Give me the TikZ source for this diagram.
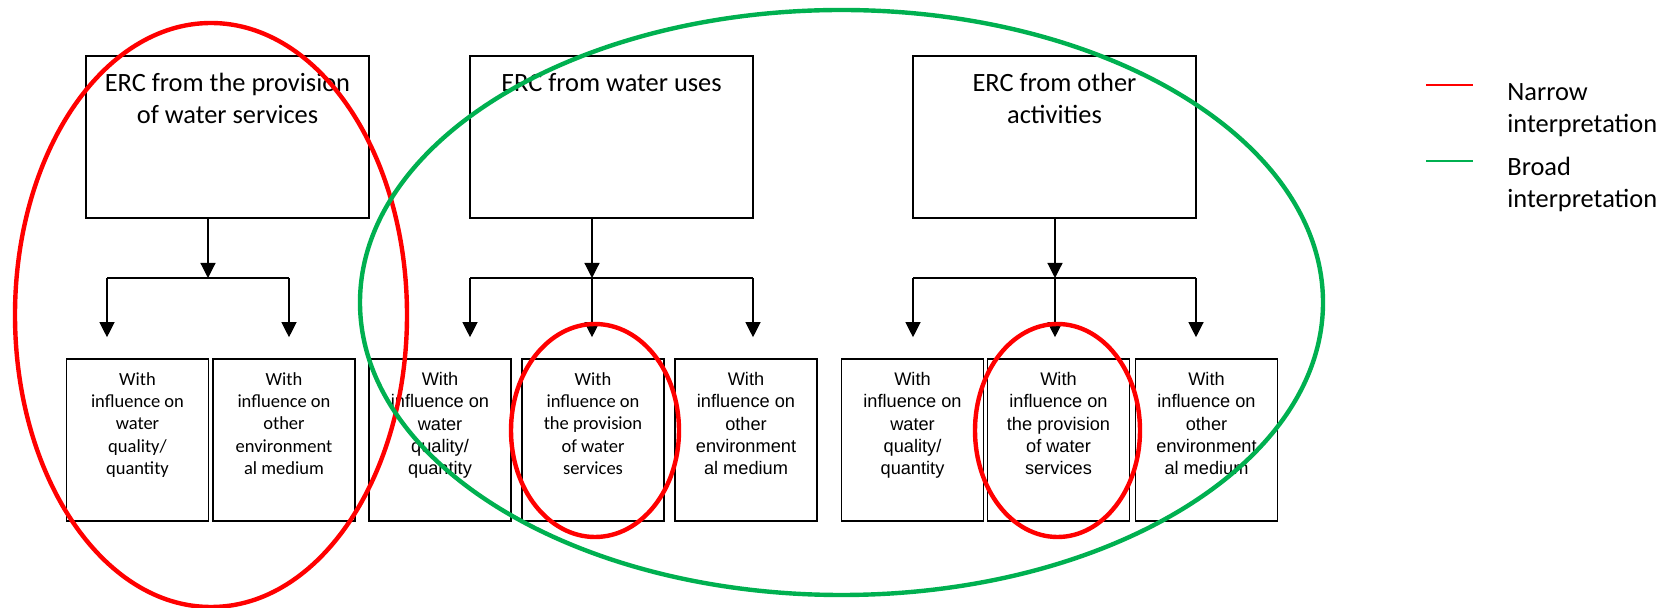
\documentclass[tikz,border=0pt]{standalone}
\usepackage{fontspec}
\setmainfont{Carlito}
\newfontfamily\arialf{Liberation Sans}
\usetikzlibrary{arrows.meta}
\definecolor{nred}{RGB}{255,0,0}
\definecolor{bgreen}{RGB}{0,176,80}
\tikzset{
  topbox/.style={draw, line width=0.8pt, minimum width=141.5pt, minimum height=81pt, inner sep=0pt},
  botbox/.style={draw, line width=0.8pt, minimum width=71pt, minimum height=81pt, inner sep=0pt},
  toptext/.style={align=center, anchor=north, inner sep=0pt, font=\fontsize{13.2}{16}\selectfont},
  cbot/.style={align=center, anchor=north, inner sep=0pt, font=\fontsize{9.25}{11.15}\selectfont},
  abot/.style={align=center, anchor=north, inner sep=0pt, font=\arialf\fontsize{9.1}{11.15}\selectfont},
  legtext/.style={align=left, anchor=north west, inner sep=0pt, font=\fontsize{13.2}{16}\selectfont},
  conn/.style={line width=0.6pt},
  arr/.style={conn, -{Triangle[length=7.5pt, width=7.5pt]}},
  ring/.style={line width=2.2pt},
  legline/.style={line width=1pt},
}
\begin{document}
\begin{tikzpicture}[x=0.5pt, y=-0.5pt]
\useasboundingbox (0,0) rectangle (1666,608);

% top boxes
\node[topbox] (T1) at (227.5,137) {};
\node[topbox] (T2) at (611.5,137) {};
\node[topbox] (T3) at (1054.5,137) {};
\node[toptext] (T1t) at (227.5,73) {ERC from the provision\\of water services};
\node[toptext] (T2t) at (611.5,73) {ERC from water uses};
\node[toptext] (T3t) at (1054.5,73) {ERC from other\\activities};

% bottom boxes
\node[botbox] (B1) at (137.5,440) {};
\node[botbox] (B2) at (284,440) {};
\node[botbox] (B3) at (440,440) {};
\node[botbox] (B4) at (593,440) {};
\node[botbox] (B5) at (746,440) {};
\node[botbox] (B6) at (912.5,440) {};
\node[botbox] (B7) at (1058.5,440) {};
\node[botbox] (B8) at (1206.5,440) {};

\node[cbot] (B1t) at (137.5,372) {With\\influence on\\water\\quality/\\quantity};
\node[cbot] (B2t) at (284,372) {With\\influence on\\other\\environment\\al medium};
\node[abot] (B3t) at (440,372) {With\\influence on\\water\\quality/\\quantity};
\node[cbot] (B4t) at (593,372) {With\\influence on\\the provision\\of water\\services};
\node[abot] (B5t) at (746,372) {With\\influence on\\other\\environment\\al medium};
\node[abot] (B6t) at (912.5,372) {With\\influence on\\water\\quality/\\quantity};
\node[abot] (B7t) at (1058.5,372) {With\\influence on\\the provision\\of water\\services};
\node[abot] (B8t) at (1206.5,372) {With\\influence on\\other\\environment\\al medium};

% junctions
\coordinate (J1) at (208,278);
\coordinate (L1) at (107,278);
\coordinate (R1) at (289,278);
\coordinate (J2) at (592,278);
\coordinate (L2) at (470,278);
\coordinate (R2) at (753,278);
\coordinate (J3) at (1055,278);
\coordinate (L3) at (913,278);
\coordinate (R3) at (1196,278);

% group 1
\draw[arr] (T1.south -| J1) -- (J1);
\draw[conn] (L1) -- (R1);
\draw[arr] (L1) -- ([yshift=10.5pt]B1.north -| L1);
\draw[arr] (R1) -- ([yshift=10.5pt]B2.north -| R1);
% group 2
\draw[conn] (L2) -- (R2);
\draw[arr] (L2) -- ([yshift=10.5pt]B3.north -| L2);
\draw[arr] (J2) -- ([yshift=10.5pt]B4.north -| J2);
\draw[arr] (R2) -- ([yshift=10.5pt]B5.north -| R2);
\draw[arr] (T2.south -| J2) -- (J2);
% group 3
\draw[arr] (T3.south -| J3) -- (J3);
\draw[conn] (L3) -- (R3);
\draw[arr] (L3) -- ([yshift=10.5pt]B6.north -| L3);
\draw[arr] (J3) -- ([yshift=10.5pt]B7.north -| J3);
\draw[arr] (R3) -- ([yshift=10.5pt]B8.north -| R3);

% ellipses
\draw[nred, ring] (211,315) ellipse [x radius=196, y radius=292];
\draw[bgreen, ring] (841.5,302.5) ellipse [x radius=481.5, y radius=292.5];
\draw[nred, ring] (595,430.5) ellipse [x radius=84, y radius=106.5];
\draw[nred, ring] (1057.5,430.5) ellipse [x radius=82.5, y radius=106.5];

% legend
\coordinate (LgA1) at (1426,85);
\coordinate (LgA2) at (1473,85);
\coordinate (LgB1) at (1426,161);
\coordinate (LgB2) at (1473,161);
\draw[nred, legline] (LgA1) -- (LgA2);
\draw[bgreen, legline] (LgB1) -- (LgB2);
\node[legtext] (LgAt) at (1507,83) {Narrow\\interpretation};
\node[legtext] (LgBt) at (1507,157) {Broad\\interpretation};
\end{tikzpicture}
\end{document}
